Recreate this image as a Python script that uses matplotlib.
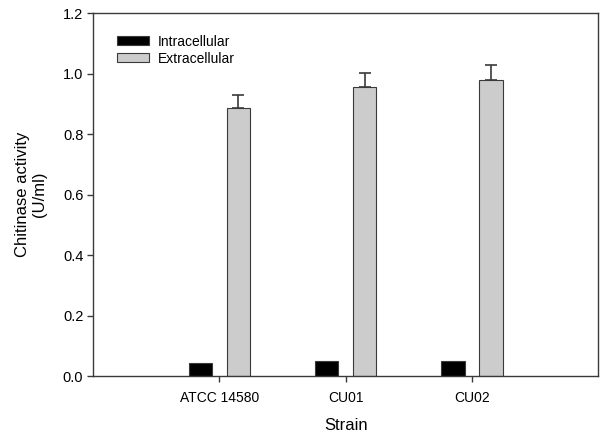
import numpy as np
import matplotlib
matplotlib.use("Agg")
import matplotlib.pyplot as plt

plt.rcParams['font.family'] = ['Liberation Sans', 'DejaVu Sans']

strains = ["ATCC 14580", "CU01", "CU02"]
intracellular = [0.042, 0.050, 0.050]
extracellular = [0.886, 0.955, 0.979]
extra_err = [0.044, 0.048, 0.048]

x = np.arange(1, len(strains) + 1)
width = 0.185
offset = 0.15

fig = plt.figure(figsize=(6, 4.36), dpi=100)
ax = fig.add_axes([0.155, 0.1376, 0.842, 0.8324])

edge = "#3a3a3a"
ax.bar(x - offset, intracellular, width, color="black", edgecolor=edge,
       linewidth=0.8, label="Intracellular")
ax.bar(x + offset, extracellular, width, color="#cccccc", edgecolor=edge,
       linewidth=0.8, label="Extracellular",
       yerr=[np.zeros(3), extra_err],
       error_kw=dict(ecolor=edge, elinewidth=1.2, capsize=4, capthick=1.2))

ax.set_xlim(0, 4)
ax.set_ylim(0, 1.2)
ax.set_xticks(x)
ax.set_xticklabels(strains, fontsize=10)
ax.set_yticks(np.arange(0, 1.21, 0.2))
ax.set_yticklabels(["%.1f" % v for v in np.arange(0, 1.21, 0.2)], fontsize=10.5)
ax.tick_params(direction="out", length=4, width=1, color=edge)
ax.tick_params(axis="x", pad=7)
ax.tick_params(axis="y", pad=3)

for s in ax.spines.values():
    s.set_color(edge)
    s.set_linewidth(1)

ax.set_xlabel("Strain", fontsize=12, labelpad=9)
ax.set_ylabel("Chitinase activity\n(U/ml)", fontsize=12, labelpad=11)

leg = ax.legend(loc="upper left", frameon=False, fontsize=10, handlelength=2.3,
                handleheight=0.65, handletextpad=0.65, labelspacing=0.22,
                bbox_to_anchor=(0.022, 0.975))

fig.savefig("out.png", dpi=100)
